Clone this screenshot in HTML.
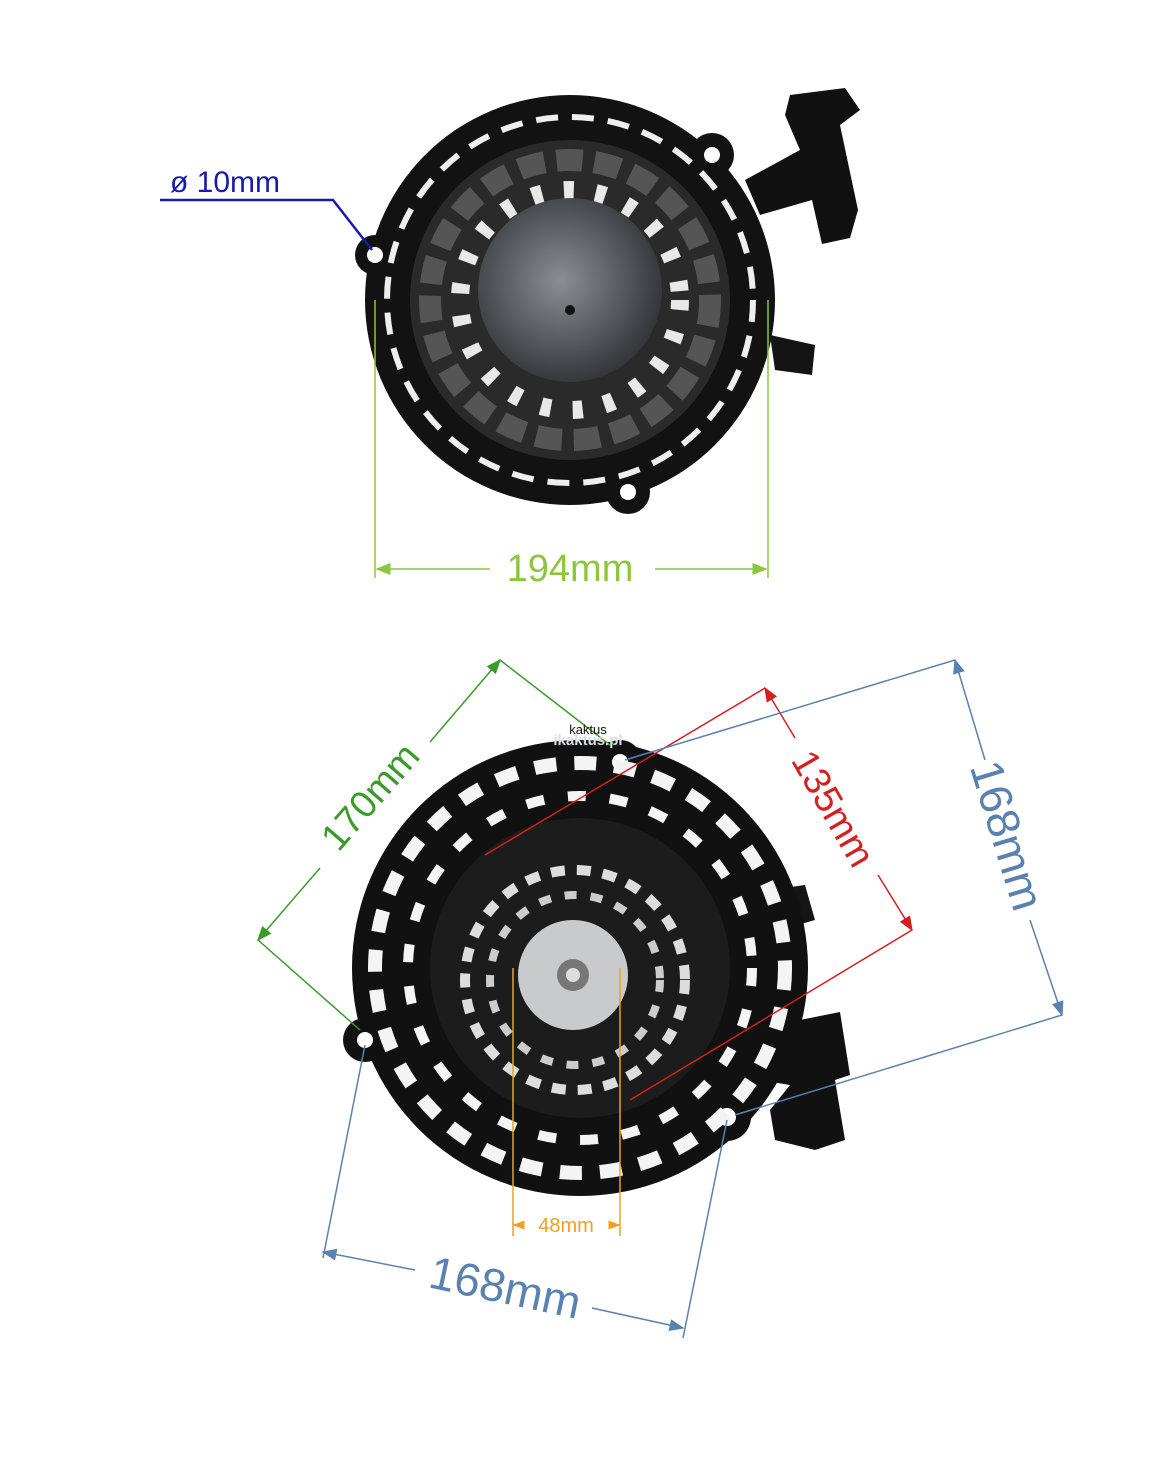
<!DOCTYPE html>
<html><head><meta charset="utf-8">
<style>
html,body{margin:0;padding:0;background:#fff;}
svg{display:block;}
text{font-family:"Liberation Sans",sans-serif;}
</style></head>
<body>
<svg width="1176" height="1458" viewBox="0 0 1176 1458" xmlns="http://www.w3.org/2000/svg">
<defs>
<marker id="ag" markerWidth="10" markerHeight="8" refX="9" refY="4" orient="auto"><path d="M0,0 L10,4 L0,8 z" fill="#8cc63f"/></marker>
<marker id="agg" markerWidth="10" markerHeight="8" refX="9" refY="4" orient="auto"><path d="M0,0 L10,4 L0,8 z" fill="#3a9a2a"/></marker>
<marker id="ar" markerWidth="10" markerHeight="8" refX="9" refY="4" orient="auto"><path d="M0,0 L10,4 L0,8 z" fill="#d42020"/></marker>
<marker id="ab" markerWidth="10" markerHeight="8" refX="9" refY="4" orient="auto"><path d="M0,0 L10,4 L0,8 z" fill="#5a82b0"/></marker>
<marker id="ao" markerWidth="8" markerHeight="6" refX="7" refY="3" orient="auto"><path d="M0,0 L8,3 L0,6 z" fill="#f0a020"/></marker>
<radialGradient id="hub" cx="0.45" cy="0.45" r="0.6"><stop offset="0" stop-color="#8a8e92"/><stop offset="1" stop-color="#2e3034"/></radialGradient>
</defs>

<!-- TOP STARTER -->
<g>
  <path d="M790,95 L845,88 L860,110 L840,125 L858,210 L850,238 L822,244 L812,200 L760,215 L745,180 L800,150 L785,115 z" fill="#111"/>
  <path d="M770,335 L815,345 L812,375 L775,370 z" fill="#141414"/>
  <circle cx="570" cy="300" r="205" fill="#121212"/>
  <circle cx="375" cy="255" r="20" fill="#121212"/>
  <circle cx="712" cy="155" r="22" fill="#121212"/>
  <circle cx="628" cy="492" r="22" fill="#121212"/>
  <circle cx="375" cy="255" r="8" fill="#fff"/>
  <circle cx="712" cy="155" r="8" fill="#fff"/>
  <circle cx="628" cy="492" r="8" fill="#fff"/>
  <circle cx="570" cy="300" r="183" fill="none" stroke="#eee" stroke-width="6" stroke-dasharray="22 14"/>
  <circle cx="570" cy="300" r="160" fill="#2a2a2a"/>
  <circle cx="570" cy="300" r="140" fill="none" stroke="#555" stroke-width="22" stroke-dasharray="26 12"/>
  <circle cx="570" cy="300" r="110" fill="none" stroke="#e8e8e8" stroke-width="18" stroke-dasharray="10 22"/>
  <circle cx="570" cy="290" r="92" fill="url(#hub)"/>
  <circle cx="570" cy="310" r="5" fill="#111"/>
</g>

<!-- top dims -->
<g stroke="#8cc63f" stroke-width="1.5" fill="none">
  <line x1="375" y1="300" x2="375" y2="578"/>
  <line x1="768" y1="300" x2="768" y2="578"/>
  <line x1="490" y1="569" x2="377" y2="569" marker-end="url(#ag)"/>
  <line x1="655" y1="569" x2="766" y2="569" marker-end="url(#ag)"/>
</g>
<text x="570" y="581" font-size="38" fill="#8cc63f" text-anchor="middle">194mm</text>

<text x="170" y="192" font-size="30" fill="#1a1aa8">ø 10mm</text>
<polyline points="160,200 333,200 372,250" fill="none" stroke="#1a1aa8" stroke-width="2.5"/>

<!-- BOTTOM STARTER -->
<g>
  <path d="M800,1020 L840,1012 L850,1075 L835,1080 L845,1140 L815,1150 L775,1140 L770,1110 L790,1085 L760,1080 z" fill="#111"/>
  <path d="M770,890 L805,885 L815,920 L780,930 z" fill="#151515"/>
  <circle cx="580" cy="968" r="228" fill="#111"/>
  <circle cx="620" cy="762" r="22" fill="#111"/>
  <circle cx="365" cy="1040" r="22" fill="#111"/>
  <circle cx="727" cy="1117" r="24" fill="#111"/>
  <circle cx="620" cy="762" r="8" fill="#fff"/>
  <circle cx="365" cy="1040" r="8" fill="#fff"/>
  <circle cx="727" cy="1117" r="9" fill="#fff"/>
  <circle cx="580" cy="968" r="205" fill="none" stroke="#f4f4f4" stroke-width="14" stroke-dasharray="22 18"/>
  <circle cx="580" cy="968" r="172" fill="none" stroke="#f4f4f4" stroke-width="10" stroke-dasharray="18 24"/>
  <circle cx="580" cy="968" r="150" fill="#1c1c1c"/>
  <circle cx="575" cy="980" r="110" fill="none" stroke="#ddd" stroke-width="10" stroke-dasharray="14 12"/>
  <circle cx="575" cy="980" r="85" fill="none" stroke="#ccc" stroke-width="8" stroke-dasharray="12 14"/>
  <circle cx="573" cy="975" r="55" fill="#c8cacc"/>
  <circle cx="573" cy="975" r="16" fill="#777"/>
  <circle cx="573" cy="975" r="7" fill="#ddd"/>
</g>

<!-- green 170 -->
<g stroke="#3a9a2a" stroke-width="1.5" fill="none">
  <line x1="500" y1="660" x2="610" y2="745"/>
  <line x1="258" y1="940" x2="360" y2="1030"/>
  <line x1="430" y1="742" x2="500" y2="660" marker-end="url(#agg)"/>
  <line x1="320" y1="868" x2="258" y2="940" marker-end="url(#agg)"/>
</g>
<text transform="translate(380,805) rotate(-49)" font-size="38" fill="#3a9a2a" text-anchor="middle">170mm</text>

<!-- red 135 -->
<g stroke="#d42020" stroke-width="1.5" fill="none">
  <line x1="765" y1="688" x2="485" y2="855"/>
  <line x1="912" y1="930" x2="630" y2="1100"/>
  <line x1="795" y1="738" x2="765" y2="688" marker-end="url(#ar)"/>
  <line x1="878" y1="875" x2="912" y2="930" marker-end="url(#ar)"/>
</g>
<text transform="translate(822,815) rotate(60)" font-size="38" fill="#d42020" text-anchor="middle">135mm</text>

<!-- blue right 168 -->
<g stroke="#5a82b0" stroke-width="1.5" fill="none">
  <line x1="955" y1="660" x2="625" y2="760"/>
  <line x1="1062" y1="1015" x2="735" y2="1115"/>
  <line x1="985" y1="760" x2="955" y2="660" marker-end="url(#ab)"/>
  <line x1="1030" y1="920" x2="1062" y2="1015" marker-end="url(#ab)"/>
</g>
<text transform="translate(992,840) rotate(73)" font-size="46" fill="#5a82b0" text-anchor="middle">168mm</text>

<!-- blue bottom 168 -->
<g stroke="#5a82b0" stroke-width="1.5" fill="none">
  <line x1="365" y1="1045" x2="323" y2="1258"/>
  <line x1="727" y1="1120" x2="683" y2="1338"/>
  <line x1="415" y1="1270" x2="323" y2="1252" marker-end="url(#ab)"/>
  <line x1="592" y1="1308" x2="683" y2="1328" marker-end="url(#ab)"/>
</g>
<text transform="translate(502,1303) rotate(12)" font-size="46" fill="#5a82b0" text-anchor="middle">168mm</text>

<!-- orange 48 -->
<g stroke="#f0a020" stroke-width="1.5" fill="none">
  <line x1="513" y1="968" x2="513" y2="1236"/>
  <line x1="620" y1="968" x2="620" y2="1236"/>
  <line x1="522" y1="1225" x2="514" y2="1225" marker-end="url(#ao)"/>
  <line x1="611" y1="1225" x2="619" y2="1225" marker-end="url(#ao)"/>
</g>
<text x="566" y="1232" font-size="20" fill="#f0a020" text-anchor="middle">48mm</text>

<text x="588" y="734" font-size="13" fill="#111" text-anchor="middle">kaktus</text>
<text x="588" y="745" font-size="15" fill="#d8dde2" text-anchor="middle" font-weight="bold">ikaktus.pl</text>
</svg>
</body></html>
